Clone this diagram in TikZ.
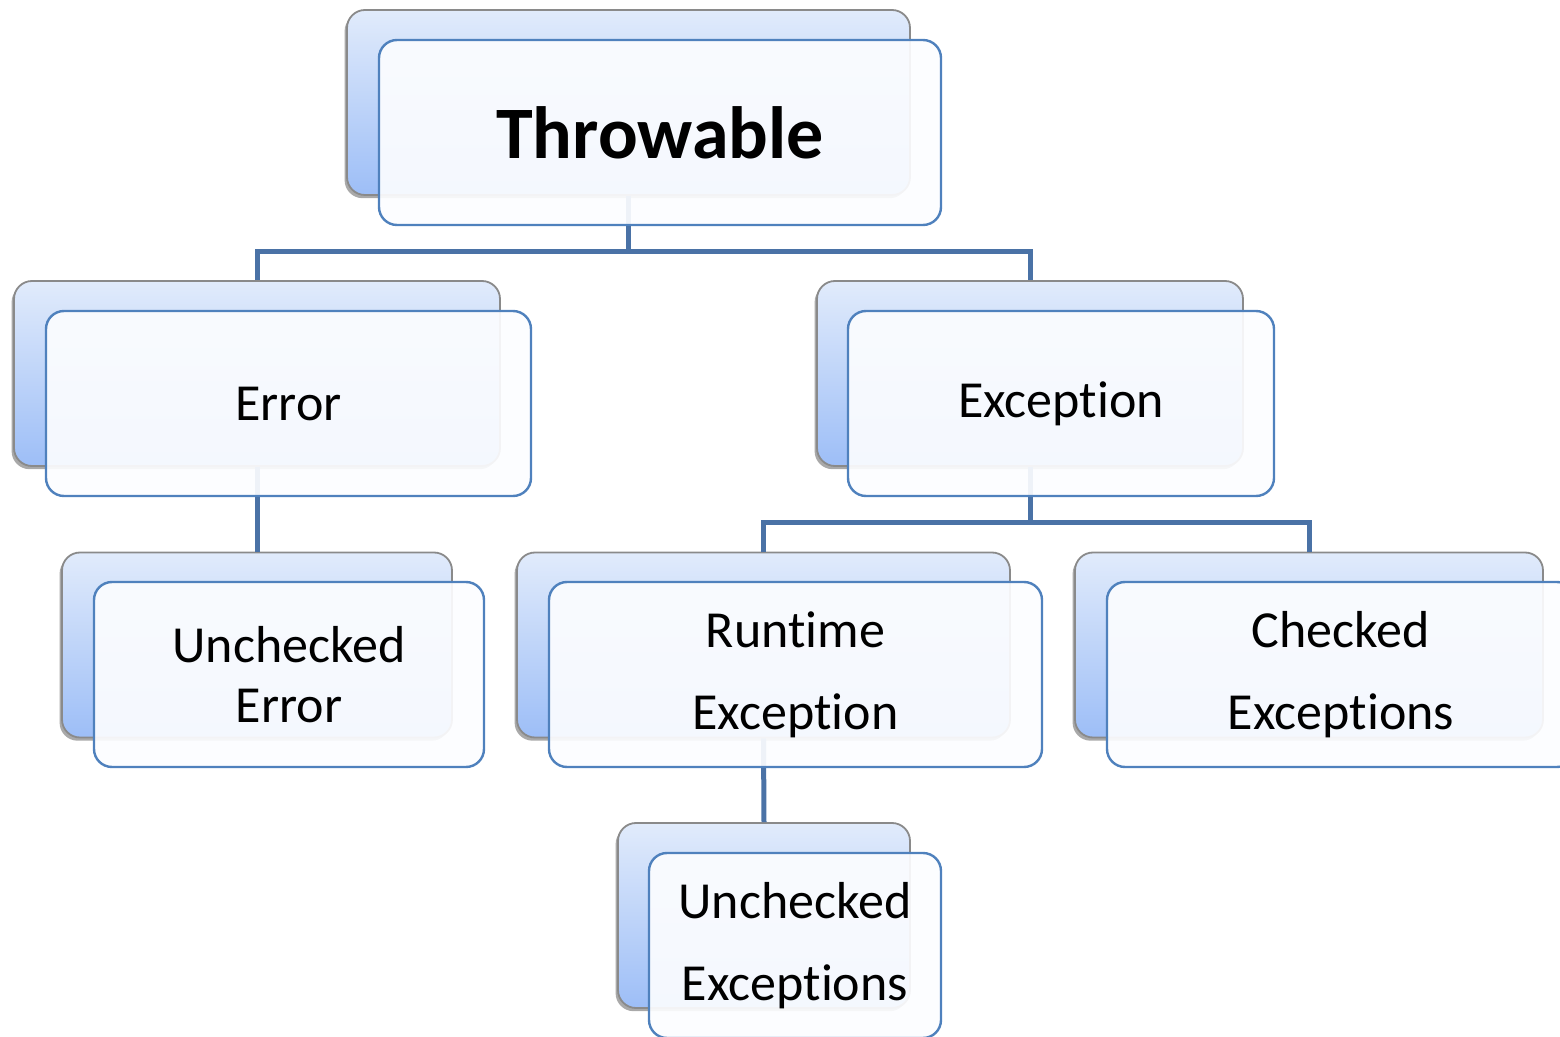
\documentclass[tikz,border=0pt]{standalone}
\usepackage{fontspec}
\setmainfont{Carlito}[Ligatures=NoCommon]
\usetikzlibrary{shadows}
\definecolor{backtop}{HTML}{E1EBFB}
\definecolor{backbot}{HTML}{9DBEF7}
\definecolor{backline}{HTML}{8A8A8A}
\definecolor{frontfill}{HTML}{FCFDFF}
\definecolor{frontline}{HTML}{4F81BD}
\definecolor{connline}{HTML}{4A72A6}
\tikzset{
  backbox/.style={rectangle, rounded corners=9pt, draw=backline, line width=0.9pt,
    top color=backtop, bottom color=backbot, inner sep=0pt, minimum height=92.5pt,
    drop shadow={shadow xshift=-1.2pt, shadow yshift=-1.6pt, opacity=0.45, fill=black!75}},
  frontbox/.style={rectangle, rounded corners=9pt, draw=frontline, line width=1.2pt,
    fill=frontfill, fill opacity=0.92, text opacity=1, text=black, inner sep=0pt,
    minimum height=92.5pt, align=center, font=\fontsize{26}{41}\selectfont},
  conn/.style={draw=connline, line width=2.5pt},
}
\begin{document}
\begin{tikzpicture}[x=0.5pt,y=-0.5pt]
\useasboundingbox (0,0) rectangle (1560,1037);
\clip (0,0) rectangle (1560,1037);

% shaded back plates
\node[backbox, minimum width=281.5pt] (tb) at (628.5,102.5) {};
\node[backbox, minimum width=243pt]   (eb) at (257,373.5) {};
\node[backbox, minimum width=213pt]   (xb) at (1030,373.5) {};
\node[backbox, minimum width=195pt]   (ueb) at (257,645) {};
\node[backbox, minimum width=246.5pt] (rb) at (763.5,645) {};
\node[backbox, minimum width=234pt]   (cb) at (1309,645) {};
\node[backbox, minimum width=146pt]   (uxb) at (764,915.5) {};

% hierarchy connectors
\coordinate (j1) at (628.5,252);
\coordinate (j2) at (1030,523);
\draw[conn] (tb.south) -- (j1);
\draw[conn] (eb.north) |- (j1) -| (xb.north);
\draw[conn] (eb.south) -- (ueb.north);
\draw[conn] (xb.south) -- (j2);
\draw[conn] (rb.north) |- (j2) -| (cb.north);
\draw[conn] (rb.south) -- (uxb.north);

% translucent front cards with labels
\node[frontbox, minimum width=281pt, font=\fontsize{37}{44}\selectfont\bfseries] (t) at (660,132.5) {Throwable};
\node[frontbox, minimum width=242.5pt] (e) at (288.5,403.5) {Error};
\node[frontbox, minimum width=213pt]   (x) at (1061,403.5) {Exception};
\node[frontbox, minimum width=195pt, font=\fontsize{26}{30}\selectfont] (ue) at (289,674.5) {Unchecked\\Error};
\node[frontbox, minimum width=246.5pt] (r) at (795.5,674.5) {Runtime\\Exception};
\node[frontbox, minimum width=234pt]   (c) at (1341,674.5) {Checked\\Exceptions};
\node[frontbox, minimum width=146pt]   (ux) at (795,945.5) {Unchecked\\Exceptions};
\end{tikzpicture}
\end{document}
